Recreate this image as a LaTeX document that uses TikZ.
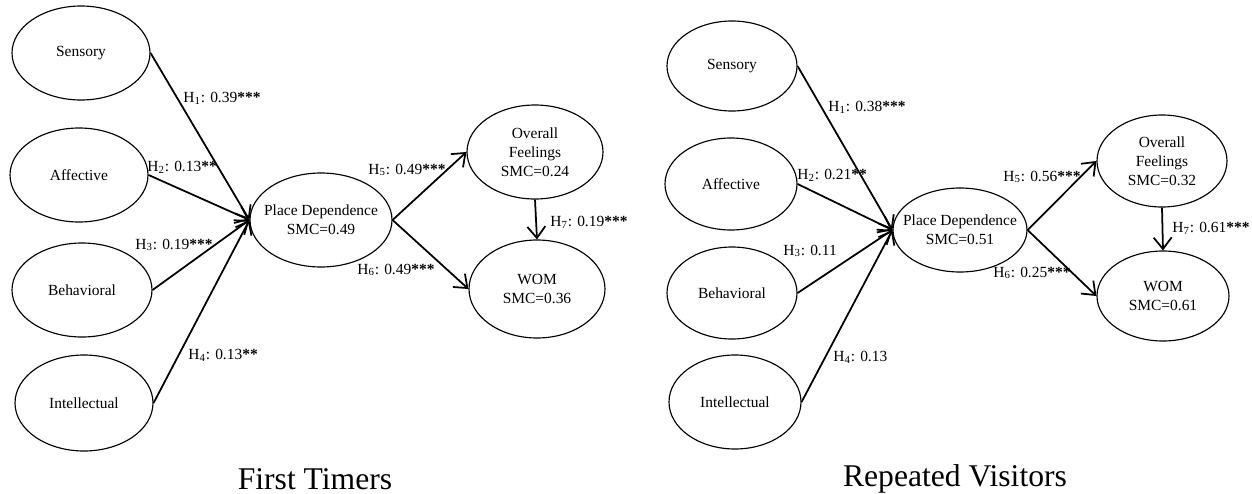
\documentclass[tikz,border=0pt]{standalone}
\usepackage{fontspec}
\setmainfont{Liberation Serif}
\usetikzlibrary{arrows.meta,shapes.geometric}
\newcommand{\sig}[1]{{\bfseries #1}}
\begin{document}
\begin{tikzpicture}[x=0.02cm,y=-0.02cm,
  ell/.style 2 args={draw, ellipse, inner sep=0pt, line width=0.65pt,
    minimum width=#1*0.02cm, minimum height=#2*0.02cm},
  every label/.style={font=\fontsize{8.8}{10.7}\selectfont, align=center, inner sep=0pt},
  lbl/.style={anchor=west, inner sep=0pt, font=\fontsize{8.8}{10.7}\selectfont},
  arr/.style={-{Straight Barb[length=2.3mm,width=3.6mm,line width=1pt]}, line width=1pt},
  captxt/.style={font=\fontsize{18}{22}\selectfont, inner sep=0pt}
]
\useasboundingbox (0,0) rectangle (1252,494);
% ---------- First Timers ----------
\node[ell={138}{94}, label=center:Sensory] (s1) at (81,53) {};
\node[ell={138}{94}, label=center:Affective] (a1) at (79,175) {};
\node[ell={140}{94}, label=center:Behavioral] (b1) at (82,290) {};
\node[ell={138}{96}, label=center:Intellectual] (i1) at (84,403) {};
\node[ell={142}{94}, label={center:Place Dependence\\SMC=0.49}] (pd1) at (321,220) {};
\node[ell={136}{94}, label={center:Overall\\Feelings\\SMC=0.24}] (of1) at (535,152) {};
\node[ell={136}{98}, label={center:WOM\\SMC=0.36}] (w1) at (537,289) {};
\draw[arr] (s1.east) -- (pd1.west);
\draw[arr] (a1.east) -- (pd1.west);
\draw[arr] (b1.east) -- (pd1.west);
\draw[arr] (i1.east) -- (pd1.west);
\draw[arr] (pd1.east) -- (of1.west);
\draw[arr] (pd1.east) -- (w1.west);
\draw[arr] (of1.south) -- (w1.north);
\node[lbl] (h11) at (183,98) {H\textsubscript{1}: 0.39\sig{***}};
\node[lbl] (h21) at (147,167) {H\textsubscript{2}: 0.13\sig{**}};
\node[lbl] (h31) at (135,245) {H\textsubscript{3}: 0.19\sig{***}};
\node[lbl] (h41) at (188,355) {H\textsubscript{4}: 0.13\sig{**}};
\node[lbl] (h51) at (368,170) {H\textsubscript{5}: 0.49\sig{***}};
\node[lbl] (h61) at (357,270) {H\textsubscript{6}: 0.49\sig{***}};
\node[lbl] (h71) at (550,222) {H\textsubscript{7}: 0.19\sig{***}};
\node[captxt] (c1) at (315,479) {First Timers};
% ---------- Repeated Visitors ----------
\node[ell={130}{90}, label=center:Sensory] (s2) at (732,66) {};
\node[ell={132}{92}, label=center:Affective] (a2) at (731,184) {};
\node[ell={130}{92}, label=center:Behavioral] (b2) at (732,293) {};
\node[ell={132}{94}, label=center:Intellectual] (i2) at (735,402) {};
\node[ell={134}{84}, label={center:Place Dependence\\SMC=0.51}] (pd2) at (960,230) {};
\node[ell={130}{92}, label={center:Overall\\Feelings\\SMC=0.32}] (of2) at (1162,161) {};
\node[ell={132}{90}, label={center:WOM\\SMC=0.61}] (w2) at (1163,296) {};
\draw[arr] (s2.east) -- (pd2.west);
\draw[arr] (a2.east) -- (pd2.west);
\draw[arr] (b2.east) -- (pd2.west);
\draw[arr] (i2.east) -- (pd2.west);
\draw[arr] (pd2.east) -- (of2.west);
\draw[arr] (pd2.east) -- (w2.west);
\draw[arr] (of2.south) -- (w2.north);
\node[lbl] (h12) at (828,107) {H\textsubscript{1}: 0.38\sig{***}};
\node[lbl] (h22) at (797,175) {H\textsubscript{2}: 0.21\sig{**}};
\node[lbl] (h32) at (783,251) {H\textsubscript{3}: 0.11};
\node[lbl] (h42) at (833,357) {H\textsubscript{4}: 0.13};
\node[lbl] (h52) at (1003,177) {H\textsubscript{5}: 0.56\sig{***}};
\node[lbl] (h62) at (993,273) {H\textsubscript{6}: 0.25\sig{***}};
\node[lbl] (h72) at (1172,228) {H\textsubscript{7}: 0.61\sig{***}};
\node[captxt] (c2) at (955,479) {Repeated Visitors};
\end{tikzpicture}
\end{document}
